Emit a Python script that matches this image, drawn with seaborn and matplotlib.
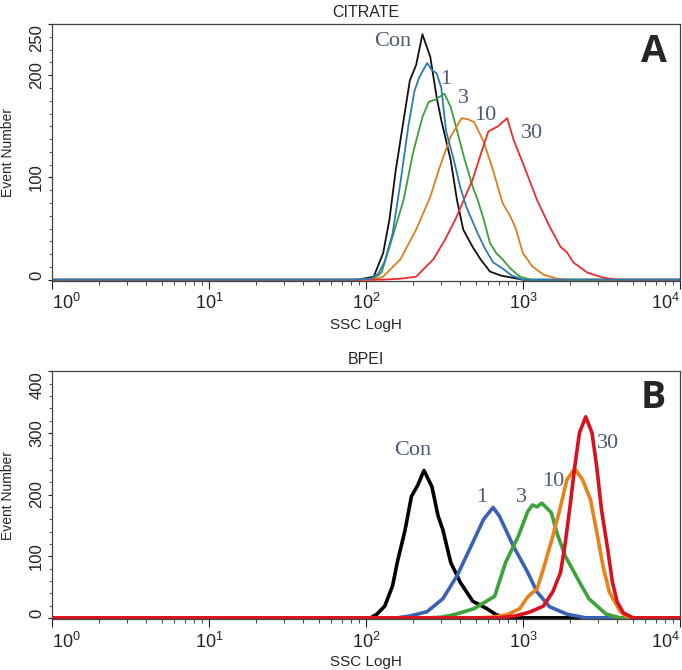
import numpy as np
import pandas as pd
import matplotlib
matplotlib.use("Agg")
import matplotlib.pyplot as plt
from matplotlib.ticker import MultipleLocator, LogLocator, NullFormatter
import seaborn as sns

# ---------------------------------------------------------------
# Datos (x en log10(SSC), y = Event Number)
# ---------------------------------------------------------------
samples = ["Con", "1", "3", "10", "30"]

# Panel A - CITRATE
cit_con_log = [0, 1.95, 2.05, 2.11, 2.15, 2.19, 2.24, 2.28, 2.32, 2.36, 2.41, 2.45, 2.48, 2.54, 2.58, 2.62, 2.68, 2.73, 2.79, 2.86, 2.93, 3.0, 4]
cit_con_cnt = [0, 0, 3, 26, 59, 107, 156, 195, 210, 240, 218, 179, 156, 117, 78, 49, 32, 20, 8, 4, 2, 0, 0]
cit_1_log = [0, 1.9, 2.03, 2.08, 2.12, 2.17, 2.22, 2.27, 2.31, 2.34, 2.39, 2.42, 2.45, 2.48, 2.51, 2.56, 2.60, 2.64, 2.71, 2.76, 2.81, 2.87, 2.93, 3.0, 4]
cit_1_cnt = [0, 0, 1, 6, 18, 45, 95, 150, 185, 198, 212, 205, 202, 188, 146, 117, 91, 71, 46, 30, 17, 11, 4, 0, 0]
cit_3_log = [0, 1.95, 2.05, 2.10, 2.17, 2.24, 2.30, 2.36, 2.40, 2.44, 2.50, 2.54, 2.58, 2.63, 2.68, 2.71, 2.75, 2.79, 2.83, 2.87, 2.92, 2.98, 3.05, 4]
cit_3_cnt = [0, 0, 1, 7, 42, 78, 124, 159, 174, 176, 182, 169, 146, 117, 91, 79, 59, 36, 26, 20, 11, 3, 0, 0]
cit_10_log = [0, 1.95, 2.05, 2.11, 2.22, 2.32, 2.41, 2.47, 2.54, 2.61, 2.65, 2.69, 2.75, 2.81, 2.87, 2.92, 2.95, 3.00, 3.06, 3.13, 3.22, 3.30, 4]
cit_10_cnt = [0, 0, 0, 3, 20, 49, 81, 110, 140, 158, 157, 154, 135, 107, 75, 62, 52, 26, 13, 5, 1, 0, 0]
cit_30_log = [0, 2.1, 2.22, 2.32, 2.43, 2.50, 2.57, 2.68, 2.73, 2.78, 2.84, 2.90, 2.94, 3.00, 3.09, 3.17, 3.24, 3.28, 3.32, 3.41, 3.51, 3.60, 4]
cit_30_cnt = [0, 0, 1, 3, 20, 38, 59, 98, 122, 145, 150, 158, 137, 114, 78, 52, 32, 27, 17, 7, 2, 0, 0]

# Panel B - BPEI
bpei_con_log = [0, 1.95, 2.03, 2.07, 2.12, 2.17, 2.20, 2.25, 2.29, 2.33, 2.37, 2.42, 2.46, 2.49, 2.54, 2.60, 2.68, 2.77, 2.83, 2.90, 4]
bpei_con_cnt = [0, 0, 0, 6, 19, 52, 90, 143, 197, 215, 239, 213, 165, 143, 90, 58, 27, 15, 5, 0, 0]
bpei_1_log = [0, 2.10, 2.20, 2.28, 2.39, 2.49, 2.58, 2.66, 2.75, 2.81, 2.85, 2.94, 3.03, 3.09, 3.17, 3.28, 3.40, 4]
bpei_1_cnt = [0, 0, 0, 3, 10, 31, 68, 111, 160, 179, 165, 116, 74, 42, 18, 6, 0, 0]
bpei_3_log = [0, 2.40, 2.48, 2.56, 2.69, 2.82, 2.89, 2.97, 3.03, 3.06, 3.09, 3.12, 3.18, 3.22, 3.27, 3.36, 3.42, 3.53, 3.62, 4]
bpei_3_cnt = [0, 0, 1, 5, 15, 35, 90, 132, 172, 183, 180, 186, 171, 135, 100, 58, 31, 6, 0, 0]
bpei_10_log = [0, 2.60, 2.70, 2.80, 2.90, 2.98, 3.03, 3.09, 3.13, 3.19, 3.24, 3.28, 3.33, 3.38, 3.43, 3.47, 3.51, 3.55, 3.62, 3.66, 3.72, 4]
bpei_10_cnt = [0, 0, 0, 1, 5, 15, 34, 47, 79, 132, 181, 224, 242, 224, 192, 139, 84, 42, 10, 2, 0, 0]
bpei_30_log = [0, 2.75, 2.85, 2.95, 3.04, 3.13, 3.19, 3.24, 3.27, 3.30, 3.33, 3.36, 3.40, 3.44, 3.47, 3.50, 3.54, 3.57, 3.60, 3.64, 3.70, 4]
bpei_30_cnt = [0, 0, 0, 3, 9, 19, 42, 74, 122, 181, 245, 300, 326, 300, 245, 176, 111, 58, 26, 8, 0, 0]

# etiquetas de las curvas: (texto, log10 x, y)
cit_labels = [("Con", 2.17, 233), ("1", 2.51, 196), ("3", 2.62, 177), ("10", 2.76, 161), ("30", 3.06, 143)]
bpei_labels = [("Con", 2.30, 272), ("1", 2.74, 195), ("3", 2.99, 195), ("10", 3.19, 221), ("30", 3.54, 282)]

xtick_labels = ["$10^{0}$", "$10^{1}$", "$10^{2}$", "$10^{3}$", "$10^{4}$"]


def make_df(logs, cnts):
    frames = []
    for s, lg, c in zip(samples, logs, cnts):
        frames.append(pd.DataFrame({"ssc": 10 ** np.array(lg, dtype=float),
                                    "count": c, "sample": s}))
    return pd.concat(frames, ignore_index=True)


df_cit = make_df([cit_con_log, cit_1_log, cit_3_log, cit_10_log, cit_30_log],
                 [cit_con_cnt, cit_1_cnt, cit_3_cnt, cit_10_cnt, cit_30_cnt])
df_bpei = make_df([bpei_con_log, bpei_1_log, bpei_3_log, bpei_10_log, bpei_30_log],
                  [bpei_con_cnt, bpei_1_cnt, bpei_3_cnt, bpei_10_cnt, bpei_30_cnt])

pal_cit = {"Con": "#111111", "1": "#2b7bb8", "3": "#3c9e3a", "10": "#e07d1e", "30": "#ec2c2c"}
pal_bpei = {"Con": "#000000", "1": "#3a62b4", "3": "#3ca23a", "10": "#e8821c", "30": "#d8121e"}

sns.set_style("ticks")
plt.rcParams["font.family"] = ["Liberation Sans", "DejaVu Sans"]
plt.rcParams["mathtext.fontset"] = "custom"
plt.rcParams["mathtext.rm"] = "Liberation Sans"
plt.rcParams["mathtext.it"] = "Liberation Sans"
plt.rcParams["mathtext.default"] = "regular"

fig = plt.figure(figsize=(6.82, 6.70), dpi=100)
ax_a = fig.add_axes([0.076, 0.581, 0.921, 0.383])
ax_b = fig.add_axes([0.076, 0.076, 0.921, 0.370])

# el orden de dibujo: en A la curva azul queda encima, en B la roja
panels = [
    (ax_a, df_cit, pal_cit, ["Con", "3", "10", "30", "1"], 1.3, "CITRATE", "A",
     cit_labels, (-1, 250), [0, 100, 200, 250], 12.5),
    (ax_b, df_bpei, pal_bpei, samples, 2.6, "BPEI", "B",
     bpei_labels, (-2, 400), [0, 100, 200, 300, 400], 20),
]

for ax, df, pal, order, lw, title, letter, labels, ylim, yticks, yminor in panels:
    sns.lineplot(data=df, x="ssc", y="count", hue="sample", hue_order=order,
                 palette=pal, estimator=None, sort=False, legend=False,
                 linewidth=lw, ax=ax)
    ax.set_xscale("log")
    ax.set_xlim(1, 1e4)
    ax.set_ylim(*ylim)
    ax.set_title(title, fontsize=11.5, pad=5)
    ax.set_xlabel("SSC LogH", fontsize=11)
    ax.set_ylabel("Event Number", fontsize=10)
    ax.yaxis.set_label_coords(-0.059, 0.5)
    ax.xaxis.set_label_coords(0.5, -0.145)

    ax.set_xticks([1, 10, 100, 1000, 10000])
    ax.set_xticklabels(xtick_labels, fontsize=13)
    ax.xaxis.set_minor_locator(LogLocator(base=10, subs=np.arange(2, 10), numticks=20))
    ax.xaxis.set_minor_formatter(NullFormatter())
    xl = ax.get_xticklabels()
    xl[0].set_ha("left")
    xl[-1].set_ha("right")

    ax.set_yticks(yticks)
    ax.set_yticklabels([str(t) for t in yticks], fontsize=12, rotation=90)
    ax.yaxis.set_minor_locator(MultipleLocator(yminor))
    yl = ax.get_yticklabels()
    for t in yl:
        t.set_va("center")
    yl[0].set_va("bottom")
    yl[-1].set_va("top")

    ax.tick_params(axis="x", which="major", length=6, width=0.8, pad=3, colors="#222222")
    ax.tick_params(axis="x", which="minor", length=3, width=0.6, colors="#222222")
    ax.tick_params(axis="y", which="major", length=3, width=0.8, pad=2.5, colors="#222222")
    ax.tick_params(axis="y", which="minor", length=2, width=0.5, colors="#222222")
    for sp in ax.spines.values():
        sp.set_visible(True)
        sp.set_color("#444444")
        sp.set_linewidth(0.9)

    for txt, lg, y in labels:
        ax.text(10 ** lg, y, txt, ha="center", va="center", fontsize=16,
                family=["Liberation Serif", "DejaVu Serif"], color="#4d5a72")

    ax.text(0.958, 0.89, letter, transform=ax.transAxes, ha="center", va="center",
            fontsize=27, fontweight="bold", family=["Open Sans", "DejaVu Sans"])

fig.savefig("out.png", dpi=100)
